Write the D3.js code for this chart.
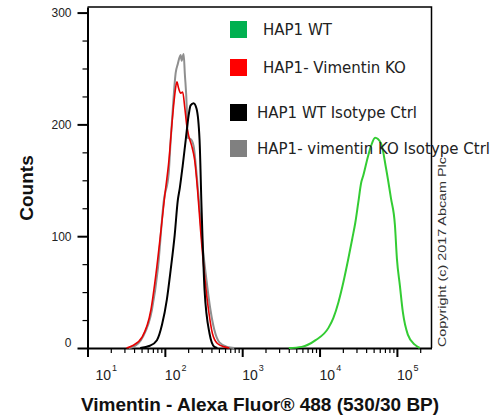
<!DOCTYPE html>
<html>
<head>
<meta charset="utf-8">
<script src="https://cdn.jsdelivr.net/npm/d3@7"></script>
<style>
  html, body { margin: 0; padding: 0; background: #fff; }
  svg { display: block; }
</style>
</head>
<body>
<div id="chart"></div>
<script>
// intensity (Alexa Fluor 488) / count pairs
const hapWT = [
  [4010, 0], [5870, 1], [8890, 7], [13030, 18], [15100, 27], [17550, 41], [20340, 59],
  [23570, 80], [26510, 98], [28970, 112], [31640, 130], [34560, 148], [36670, 154],
  [42490, 172], [46440, 181], [52280, 188], [62380, 183], [72260, 161], [83720, 134],
  [94240, 110], [100000, 80], [109200, 56], [119400, 32], [138400, 12], [170200, 3], [197300, 0]
];
const hapKO = [
  [32, 0], [38, 2], [51, 10], [66, 34], [77, 67], [89, 105], [100, 137], [113, 168],
  [123, 199], [134, 226], [143, 238], [151, 232], [160, 228], [170, 229], [181, 215],
  [192, 199], [203, 190], [222, 181], [243, 168], [265, 141], [290, 105], [326, 65],
  [367, 34], [412, 13], [478, 4], [587, 1], [681, 0]
];
const wtIso = [
  [48, 0], [64, 2], [79, 7], [92, 21], [106, 43], [119, 70], [134, 101], [147, 132],
  [156, 143], [170, 163], [186, 186], [203, 208], [215, 217], [235, 219], [257, 214],
  [281, 186], [298, 126], [326, 52], [378, 13], [437, 1], [478, 0]
];
const koIso = [
  [34, 0], [39, 1], [52, 10], [68, 34], [81, 70], [97, 132], [112, 156], [119, 186],
  [127, 215], [138, 246], [147, 254], [160, 262], [165, 257], [175, 263], [181, 246],
  [192, 215], [197, 188], [215, 187], [235, 181], [257, 156], [281, 125], [307, 92],
  [345, 61], [389, 34], [437, 16], [507, 5], [642, 1], [789, 0]
];

const legendLabels = ["HAP1 WT", "HAP1- Vimentin KO", "HAP1 WT Isotype Ctrl", "HAP1- vimentin KO Isotype Ctrl"];
const legendColors = ["#00b050", "#ff0000", "#000000", "#808080"];

const xDomain = [10, 280000];
const yDomain = [0, 305];
const xMajor = [10, 100, 1000, 10000, 100000];
const xExp = ["1", "2", "3", "4", "5"];
const yMajor = [0, 100, 200, 300];

const w = 496, h = 417;
const m = { left: 87.5, right: 64.5, top: 7, bottom: 69 };

const svg = d3.select("#chart").append("svg")
  .attr("width", w)
  .attr("height", h);

const x = d3.scaleLog().domain(xDomain).range([m.left, w - m.right]);
const y = d3.scaleLinear().domain(yDomain).range([h - m.bottom, m.top]);

// minor ticks 2..9 in every decade
const xMinor = [];
for (let d = 10; d <= 100000; d *= 10) {
  for (let k = 2; k <= 9; k++) if (d * k < xDomain[1]) xMinor.push(d * k);
}
const yMinor = d3.range(25, 300, 25).filter(v => v % 100 !== 0);

const base = h - m.bottom;

// x axis
svg.append("g")
  .attr("transform", `translate(0,${base})`)
  .call(d3.axisBottom(x).tickValues(xMinor).tickSize(5).tickSizeOuter(0).tickFormat(""))
  .call(g => g.select(".domain").attr("stroke-width", 2))
  .call(g => g.selectAll(".tick line").attr("stroke-width", 1.2));
svg.append("g")
  .attr("transform", `translate(0,${base})`)
  .call(d3.axisBottom(x).tickValues(xMajor).tickSize(9).tickSizeOuter(0).tickFormat(""))
  .call(g => g.select(".domain").remove())
  .call(g => g.selectAll(".tick line").attr("stroke-width", 2));

const xl = svg.append("g").selectAll("text")
  .data(xMajor)
  .join("text")
  .attr("x", d => Math.max(x(d), m.left + 8))
  .attr("y", base + 32)
  .style("font-family", "'Liberation Sans', Arial, sans-serif")
  .style("font-size", "14px")
  .attr("fill", "#222");
xl.append("tspan").text("10");
xl.append("tspan")
  .attr("dy", -9)
  .attr("dx", 1)
  .style("font-size", "9px")
  .text((d, i) => xExp[i]);

// y axis
svg.append("g")
  .attr("transform", `translate(${m.left},0)`)
  .call(d3.axisLeft(y).tickValues(yMinor).tickSize(5).tickSizeOuter(0).tickFormat(""))
  .call(g => g.select(".domain").attr("stroke-width", 2))
  .call(g => g.selectAll(".tick line").attr("stroke-width", 1.2));
svg.append("g")
  .attr("transform", `translate(${m.left},0)`)
  .call(d3.axisLeft(y).tickValues(yMajor).tickSize(10).tickSizeOuter(0).tickPadding(6))
  .call(g => g.select(".domain").remove())
  .call(g => g.selectAll(".tick line").attr("stroke-width", 2))
  .call(g => g.selectAll(".tick text")
    .style("font-family", "'Liberation Sans', Arial, sans-serif")
    .style("font-size", "12px")
    .attr("fill", "#222")
    .attr("dy", d => d === 0 ? "-0.1em" : "0.32em"));

// frame top and right
svg.append("path")
  .attr("d", `M${m.left},${m.top}H${w - m.right}V${base}`)
  .attr("fill", "none")
  .attr("stroke", "#000")
  .attr("stroke-width", 1.5);

// histograms
const line = d3.line()
  .x(d => x(d[0]))
  .y(d => y(d[1]))
  .curve(d3.curveMonotoneX);

const series = [
  { data: koIso, color: "#8f8f8f", width: 2 },
  { data: hapKO, color: "#e60000", width: 1.6 },
  { data: wtIso, color: "#000000", width: 2 },
  { data: hapWT, color: "#33cc33", width: 2 }
];
svg.append("g").selectAll("path")
  .data(series)
  .join("path")
  .attr("d", s => line(s.data))
  .attr("fill", "none")
  .attr("stroke", s => s.color)
  .attr("stroke-width", s => s.width)
  .attr("stroke-linejoin", "round");

// legend
const legendRows = [21, 59, 104, 140];
const legendTextX = [263, 263, 257, 257];
const lg = svg.append("g").selectAll("g")
  .data(legendLabels)
  .join("g")
  .attr("transform", (d, i) => `translate(0,${legendRows[i]})`);
lg.append("rect")
  .attr("x", 230)
  .attr("width", 17)
  .attr("height", 17)
  .attr("fill", (d, i) => legendColors[i]);
lg.append("text")
  .attr("x", (d, i) => legendTextX[i])
  .attr("y", 14)
  .style("font-family", "'DejaVu Sans', sans-serif")
  .style("font-size", "15px")
  .attr("fill", "#222")
  .text(d => d);

// axis titles
svg.append("text")
  .attr("transform", `translate(33,188) rotate(-90)`)
  .attr("text-anchor", "middle")
  .style("font-family", "'Liberation Sans', Arial, sans-serif")
  .style("font-size", "19px")
  .style("font-weight", "bold")
  .attr("fill", "#111")
  .text("Counts");

svg.append("text")
  .attr("x", 260)
  .attr("y", 411)
  .attr("text-anchor", "middle")
  .style("font-family", "'Liberation Sans', Arial, sans-serif")
  .style("font-size", "19px")
  .style("font-weight", "bold")
  .attr("fill", "#111")
  .text("Vimentin - Alexa Fluor\u00ae 488 (530/30 BP)");

svg.append("text")
  .attr("transform", `translate(446,${base - 1}) rotate(-90)`)
  .attr("textLength", 190)
  .attr("lengthAdjust", "spacingAndGlyphs")
  .style("font-family", "'Liberation Sans', Arial, sans-serif")
  .style("font-size", "11.5px")
  .attr("fill", "#333")
  .text("Copyright (c) 2017 Abcam Plc");
</script>
</body>
</html>
